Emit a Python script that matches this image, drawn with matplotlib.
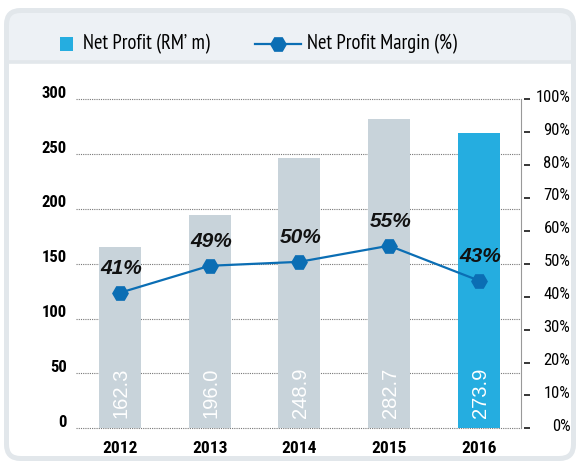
import numpy as np
import matplotlib
matplotlib.use('Agg')
import matplotlib.pyplot as plt
from matplotlib import font_manager
from matplotlib.patches import FancyBboxPatch, Rectangle
from matplotlib.transforms import ScaledTranslation

# ---- data ----
years = ['2012', '2013', '2014', '2015', '2016']
profit = [165.5, 194.5, 246.5, 282.0, 269.5]
profit_labels = ['162.3', '196.0', '248.9', '282.7', '273.9']
margin = [41.2, 49.4, 50.6, 55.5, 44.9]
margin_labels = ['41%', '49%', '50%', '55%', '43%']
left_ticks = [0, 50, 100, 150, 200, 250, 300]
right_ticks = [0, 10, 20, 30, 40, 50, 60, 70, 80, 90, 100]
right_tick_labels = ['0%', '10%', '20%', '30%', '40%', '50%', '60%', '70%', '80%', '90%', '100%']
legend_labels = ['Net Profit (RM\u2019 m)', 'Net Profit Margin (%)']

avail = {f.name for f in font_manager.fontManager.ttflist}


def pick(cands):
    for c in cands:
        if c in avail:
            return c
    return 'Liberation Sans'


NUMF = pick(['Roboto Condensed', 'Archivo Narrow', 'IBM Plex Sans Condensed', 'Fira Sans Condensed'])
LEGF = pick(['PT Sans Narrow', 'Fira Sans Condensed', 'Roboto Condensed', 'Archivo Narrow'])
SANS = 'Liberation Sans'

GRAY_BAR = '#c8d3da'
BLUE_BAR = '#25ade0'
LINE_C = '#0b6eb4'
BORDER = '#e2e7eb'
HEADER = '#edf1f5'

fig = plt.figure(figsize=(5.77, 4.62), dpi=100)

# ---- background frame (pixel coordinates) ----
bg = fig.add_axes([0, 0, 1, 1])
bg.set_xlim(0, 577)
bg.set_ylim(462, 0)
bg.axis('off')
bg.set_zorder(0)

frame_face = FancyBboxPatch((6.5, 10.5), 567, 448, boxstyle='round,pad=0,rounding_size=14',
                            fc='white', ec='none')
bg.add_patch(frame_face)
header = Rectangle((6.5, 10.5), 567, 51, fc=HEADER, ec='none')
bg.add_patch(header)
header.set_clip_path(frame_face)
bg.plot([6.5, 573.5], [61.5, 61.5], color=BORDER, lw=2.6, solid_capstyle='butt')
frame_edge = FancyBboxPatch((6.5, 10.5), 567, 448, boxstyle='round,pad=0,rounding_size=14',
                            fc='none', ec=BORDER, lw=3.6)
bg.add_patch(frame_edge)

# legend (in header)
bg.add_patch(Rectangle((60, 36.5), 13, 14, fc=BLUE_BAR, ec='none'))
bg.text(83, 43.5, legend_labels[0], va='center', ha='left', fontsize=14.8, family=LEGF, color='black')
bg.plot([255, 301], [44, 44], color=LINE_C, lw=1.6)
bg.plot([278], [44], marker='H', ms=11, color=LINE_C, lw=0)
bg.text(307, 43.5, legend_labels[1], va='center', ha='left', fontsize=14.8, family=LEGF, color='black')

# ---- main axes ----
ax = fig.add_axes([76 / 577, 33.7 / 462, 445 / 577, 329 / 462])
ax.set_zorder(1)
ax.patch.set_alpha(0)

x = np.arange(len(years))
colors = [GRAY_BAR] * (len(years) - 1) + [BLUE_BAR]
ax.bar(x, profit, width=0.47, color=colors, zorder=2)
ax.set_xlim(-0.49, 4.47)
ax.set_ylim(0, 300)

ax.set_yticks(left_ticks)
ax.yaxis.grid(True, linestyle=(0, (1, 1)), color='#777777', lw=0.8)
ax.set_axisbelow(True)
for gl in ax.get_ygridlines():
    gl.set_clip_on(False)
for s in ['top', 'left', 'bottom']:
    ax.spines[s].set_visible(False)
ax.spines['right'].set_linestyle((0, (1, 1)))
ax.spines['right'].set_color('#999999')
ax.spines['right'].set_linewidth(0.8)

ax.tick_params(axis='y', length=0, pad=6.5, labelsize=12)
for lab in ax.get_yticklabels():
    lab.set_fontfamily(NUMF)
    lab.set_fontweight('bold')
    lab.set_verticalalignment('baseline')
    lab.set_transform(lab.get_transform() + ScaledTranslation(0, 1.5 / 100, fig.dpi_scale_trans))

ax.set_xticks(x, years)
ax.tick_params(axis='x', length=0, pad=9.5, labelsize=12.5)
for lab in ax.get_xticklabels():
    lab.set_fontfamily(NUMF)
    lab.set_fontweight('bold')

for xi, lbl in zip(x, profit_labels):
    ax.annotate(lbl, (xi, 0), xytext=(1.0, 7.5), textcoords='offset points', rotation=90,
                ha='center', va='bottom', color='white', fontsize=14.5, family=SANS, zorder=3)

# ---- secondary axis ----
ax2 = ax.twinx()
ax2.set_ylim(0, 100)
ax2.set_yticks(right_ticks, right_tick_labels)
for s in ['top', 'left', 'bottom']:
    ax2.spines[s].set_visible(False)
ax2.spines['right'].set_position(('outward', 2.2))
ax2.spines['right'].set_visible(False)
ax2.tick_params(axis='y', direction='out', length=4.3, width=1.1, color='black', pad=29, labelsize=12)
for lab in ax2.get_yticklabels():
    lab.set_fontfamily(NUMF)
    lab.set_horizontalalignment('right')
    lab.set_transform(lab.get_transform() + ScaledTranslation(0, 3.5 / 100, fig.dpi_scale_trans))

ax2.plot(x, margin, color=LINE_C, lw=1.6, marker='H', ms=11, zorder=3)
for xi, mi, lbl in zip(x, margin, margin_labels):
    ax2.annotate(lbl, (xi, mi), xytext=(1.1, 17.5), textcoords='offset points', ha='center',
                 va='center', fontsize=15, fontweight='bold', style='italic', family=SANS,
                 color='#111111')

fig.savefig('out.png', dpi=100)
